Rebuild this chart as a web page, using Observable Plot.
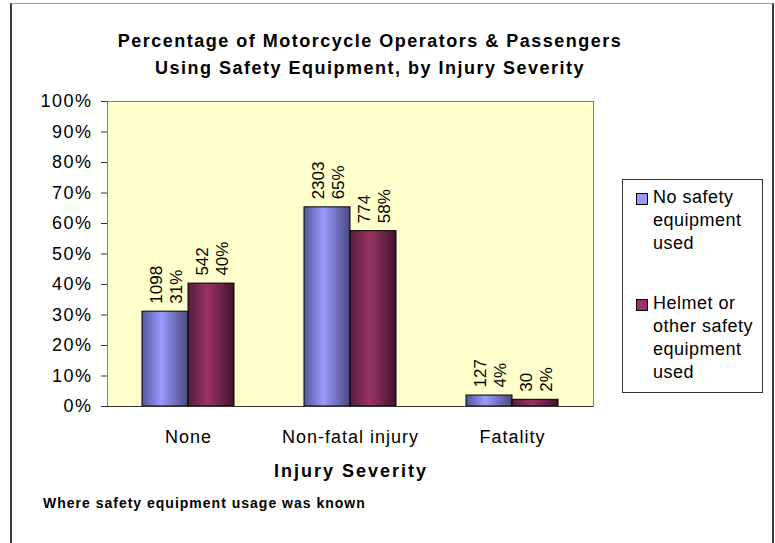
<!DOCTYPE html>
<html>
<head>
<meta charset="utf-8">
<script src="https://cdn.jsdelivr.net/npm/d3@7"></script>
<script src="https://cdn.jsdelivr.net/npm/@observablehq/plot@0.6"></script>
<style>
  html, body { margin: 0; padding: 0; background: #fff; overflow: hidden; }
  #chart { position: relative; width: 775px; height: 543px; font-family: "Liberation Sans", Arial, sans-serif; color: #000; }
  #chart .abs { position: absolute; white-space: nowrap; }
  #chart svg { position: absolute; left: 0; top: 0; }
  #chart svg g[aria-label="y-axis tick label"] text { letter-spacing: 1.5px; }
  #chart svg g[aria-label="fx-axis tick label"] text { letter-spacing: 1px; }
  .legend { position: absolute; left: 622px; top: 179px; width: 139px; height: 212px; border: 1px solid #333; background: #fff; box-sizing: content-box; }
  .legend .items { display: flex; flex-direction: column; gap: 37px; padding-top: 6px; }
  .legend .item { position: relative; padding-left: 30px; font-size: 18px; line-height: 23px; letter-spacing: 0.5px; width: 108px; white-space: normal; }
  .legend .sw { position: absolute; left: 13px; top: 7px; width: 10px; height: 10px; border: 1px solid #000; }
</style>
</head>
<body>
<div id="chart"></div>
<script>
// ---- data ----
const categories = ["None", "Non-fatal injury", "Fatality"];
const series = ["No safety equipment used", "Helmet or other safety equipment used"];
const noSafetyPct = [31.1, 65.3, 3.6];
const helmetPct = [40.3, 57.5, 2.2];
const noSafetyCount = [1098, 2303, 127];
const helmetCount = [542, 774, 30];
const yTicks = [0, 10, 20, 30, 40, 50, 60, 70, 80, 90, 100];
const seriesColors = ["#9999ff", "#993366"];
const titleLines = ["Percentage of Motorcycle Operators & Passengers", "Using Safety Equipment, by Injury Severity"];
const xTitle = "Injury Severity";
const footnote = "Where safety equipment usage was known";

const data = categories.flatMap((c, i) => [
  {cat: c, ser: series[0], pct: noSafetyPct[i], n: noSafetyCount[i]},
  {cat: c, ser: series[1], pct: helmetPct[i], n: helmetCount[i]}
]);

const chart = document.getElementById("chart");

// outer chart border
const border = document.createElement("div");
border.style.cssText = "position:absolute;left:10px;top:3px;width:760px;height:600px;border-left:2px solid #3a3a3a;border-top:1px solid #a0a0a0;border-right:2px solid #3a3a3a;";
chart.appendChild(border);

const svg = Plot.plot({
  width: 775,
  height: 460,
  marginLeft: 106,
  marginRight: 182,
  marginTop: 101,
  marginBottom: 54,
  style: {fontFamily: "'Liberation Sans', Arial, sans-serif", fontSize: "18px", color: "#000", background: "transparent", overflow: "visible"},
  fx: {domain: categories, padding: 0, label: null},
  x: {domain: series, paddingInner: 0, paddingOuter: 0.727, axis: null},
  y: {domain: [0, 100], label: null},
  color: {domain: series, range: ["url(#gradNo)", "url(#gradHelmet)"]},
  marks: [
    Plot.frame({facet: "super", fill: "#ffffcc", stroke: "#808080"}),
    Plot.axisY({ticks: yTicks, tickFormat: d => d + "%", tickSize: 6, tickPadding: 9, label: null, fontSize: 18, stroke: "#333", line: true}),
    Plot.axisFx({anchor: "bottom", tickSize: 0, tickPadding: 24, label: null, fontSize: 18}),
    Plot.barY(data, {fx: "cat", x: "ser", y: "pct", fill: "ser", stroke: "#000", strokeWidth: 1}),
    Plot.ruleY([0], {stroke: "#333"}),
    Plot.text(data, {
      fx: "cat", x: "ser", y: "pct",
      text: d => `${d.n}\n${Math.round(d.pct)}%`,
      rotate: -90, textAnchor: "start", lineAnchor: "middle",
      dy: -8, fontSize: 17, lineHeight: 1.15, fill: "#000"
    })
  ]
});

// gradient definitions for the bar fills
const defs = d3.select(svg).insert("defs", ":first-child");
const grads = [
  {id: "gradNo", stops: [["0%", "#55559a"], ["42%", "#9999ff"], ["100%", "#4a4a80"]]},
  {id: "gradHelmet", stops: [["0%", "#561d3a"], ["42%", "#993366"], ["100%", "#45132d"]]}
];
for (const g of grads) {
  const lg = defs.append("linearGradient").attr("id", g.id).attr("x1", "0").attr("x2", "1").attr("y1", "0").attr("y2", "0");
  for (const [o, c] of g.stops) lg.append("stop").attr("offset", o).attr("stop-color", c);
}
chart.appendChild(svg);

// title
titleLines.forEach((t, i) => {
  const d = document.createElement("div");
  d.className = "abs";
  d.textContent = t;
  d.style.cssText += `left:0;width:740px;text-align:center;top:${28 + i * 27}px;font-weight:bold;font-size:18px;line-height:27px;letter-spacing:1.5px;`;
  chart.appendChild(d);
});

// x axis title
const xt = document.createElement("div");
xt.className = "abs";
xt.textContent = xTitle;
xt.style.cssText += "left:0;width:702px;text-align:center;top:461px;font-weight:bold;font-size:18px;line-height:20px;letter-spacing:2px;";
chart.appendChild(xt);

// footnote
const fn = document.createElement("div");
fn.className = "abs";
fn.textContent = footnote;
fn.style.cssText += "left:43px;top:495px;font-weight:bold;font-size:14px;line-height:16px;letter-spacing:1px;";
chart.appendChild(fn);

// legend
const lg = document.createElement("div");
lg.className = "legend";
const items = document.createElement("div");
items.className = "items";
series.forEach((s, i) => {
  const it = document.createElement("div");
  it.className = "item";
  const sw = document.createElement("span");
  sw.className = "sw";
  sw.style.background = seriesColors[i];
  it.appendChild(sw);
  it.appendChild(document.createTextNode(s));
  items.appendChild(it);
});
lg.appendChild(items);
chart.appendChild(lg);
</script>
</body>
</html>
